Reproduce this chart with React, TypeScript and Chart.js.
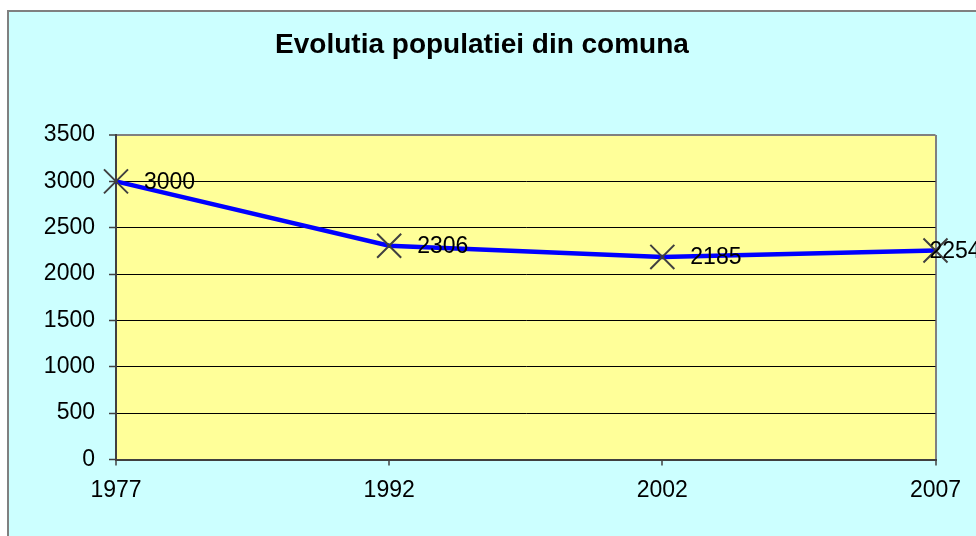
import React, { useEffect, useRef } from "react";
import { Chart, registerables } from "chart.js";

Chart.register(...registerables);

const titleText = "Evolutia populatiei din comuna";
const categories = ["1977", "1992", "2002", "2007"];
const population = [3000, 2306, 2185, 2254];
const yMin = 0;
const yMax = 3500;
const yStep = 500;

const FONT = "'Liberation Sans', Arial, sans-serif";

export default function App() {
  const ref = useRef<HTMLCanvasElement | null>(null);

  useEffect(() => {
    if (!ref.current) return;

    const titlePlugin = {
      id: "customTitle",
      afterDraw(chart: any) {
        const c = chart.ctx;
        c.save();
        c.font = `bold 28px ${FONT}`;
        c.fillStyle = "#000000";
        c.textAlign = "center";
        c.textBaseline = "alphabetic";
        c.fillText(titleText, 473, 41);
        c.restore();
      },
    };

    const labelPlugin = {
      id: "pointLabels",
      afterDatasetsDraw(chart: any) {
        const c = chart.ctx;
        const meta = chart.getDatasetMeta(0);
        c.save();
        c.font = `23px ${FONT}`;
        c.fillStyle = "#000000";
        c.textAlign = "left";
        c.textBaseline = "middle";
        meta.data.forEach((pt: any, i: number) => {
          const dx = i === meta.data.length - 1 ? -6 : 28;
          c.fillText(String(population[i]), pt.x + dx, pt.y + 1);
        });
        c.restore();
      },
    };

    const plotBg = {
      id: "plotBg",
      beforeDraw(chart: any) {
        const { ctx, chartArea } = chart;
        ctx.save();
        ctx.fillStyle = "#FFFF99";
        ctx.fillRect(
          chartArea.left,
          chartArea.top,
          chartArea.right - chartArea.left,
          chartArea.bottom - chartArea.top
        );
        ctx.restore();
      },
    };

    const chart = new Chart(ref.current, {
      type: "line",
      data: {
        labels: categories,
        datasets: [
          {
            data: population,
            borderColor: "#0000FF",
            borderWidth: 4.5,
            tension: 0,
            fill: false,
            pointStyle: "crossRot",
            pointRadius: 17,
            pointHoverRadius: 17,
            pointBorderColor: "#404040",
            pointBorderWidth: 2,
            pointBackgroundColor: "transparent",
            clip: false as any,
          },
        ],
      },
      options: {
        animation: false,
        responsive: false,
        devicePixelRatio: 1,
        layout: { padding: { top: 123, right: 40.5, left: 0, bottom: 0 } },
        plugins: {
          legend: { display: false },
          title: { display: false },
          tooltip: { enabled: false },
        },
        scales: {
          x: {
            type: "category",
            offset: false,
            afterFit(scale: any) {
              scale.height = 76.5;
              scale.paddingLeft = 0;
              scale.paddingRight = 0;
            },
            grid: {
              drawOnChartArea: true,
              color: (ctx: any) => (ctx.index === categories.length - 1 ? "#808080" : "transparent"),
              lineWidth: 2,
              tickColor: "#404040",
              tickWidth: 1.5,
              tickLength: 6,
            },
            border: { color: "#404040", width: 2 },
            ticks: {
              color: "#000000",
              font: { family: FONT, size: 23 },
              padding: 11,
              maxRotation: 0,
              autoSkip: false,
            },
          },
          y: {
            min: yMin,
            max: yMax,
            afterFit(scale: any) {
              scale.width = 107;
              scale.paddingTop = 0;
              scale.paddingBottom = 0;
            },
            grid: {
              color: (ctx: any) =>
                ctx.tick.value === yMax ? "#808080" : ctx.tick.value === yMin ? "transparent" : "#000000",
              lineWidth: (ctx: any) => (ctx.tick.value === yMax ? 2 : 1),
              tickColor: "#404040",
              tickWidth: 1.5,
              tickLength: 7,
            },
            border: { color: "#404040", width: 2 },
            ticks: {
              stepSize: yStep,
              color: "#000000",
              font: { family: FONT, size: 23 },
              padding: 14,
              callback: (v: any) => String(v),
            },
          },
        },
      },
      plugins: [plotBg, labelPlugin, titlePlugin],
    });

    return () => chart.destroy();
  }, []);

  return (
    <div
      style={{
        position: "fixed",
        left: 7,
        top: 10,
        width: 969,
        height: 526,
        boxSizing: "border-box",
        borderLeft: "2px solid #808080",
        borderTop: "2px solid #808080",
        background: "#CCFFFF",
        overflow: "hidden",
      }}
    >
      <canvas ref={ref} width={967} height={524} style={{ display: "block" }} />
    </div>
  );
}
